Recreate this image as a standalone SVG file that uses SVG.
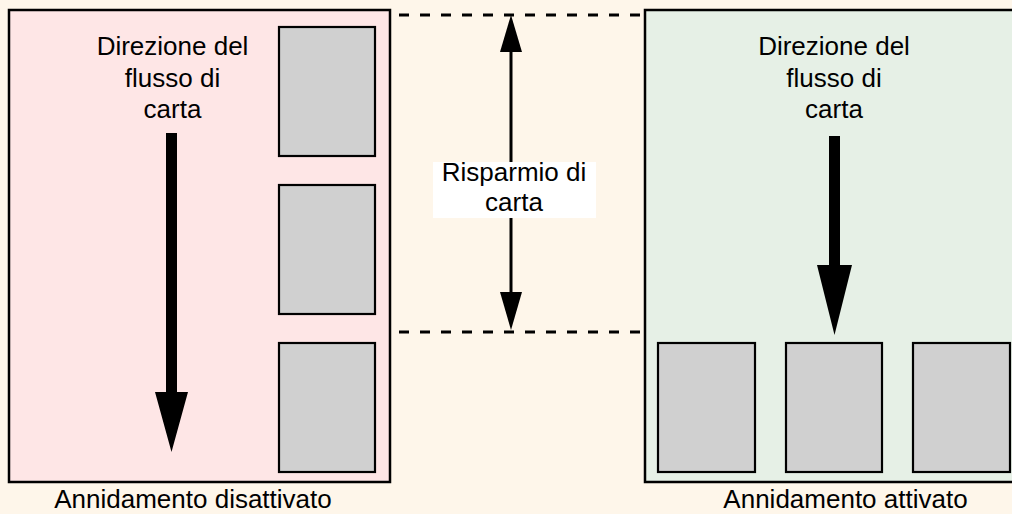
<svg xmlns="http://www.w3.org/2000/svg" width="1012" height="514" viewBox="0 0 1012 514">
  <style>
    .lbl { font-family: "Liberation Sans", Arial, Helvetica, sans-serif; font-size: 26px; fill: #000; text-anchor: middle; }
    .panel { stroke: #000; stroke-width: 2.5; }
    .paper { fill: #d0d0d0; stroke: #000; stroke-width: 2.2; }
    .dash { stroke: #000; stroke-width: 3; stroke-dasharray: 10 11; fill: none; }
    .bar { fill: #000; }
  </style>
  <rect x="0" y="0" width="1012" height="514" fill="#fef6ea"/>

  <g id="panel-off">
    <rect class="panel" x="9" y="10" width="381" height="472" fill="#fee6e6"/>
    <rect class="paper" x="279" y="27" width="96" height="129"/>
    <rect class="paper" x="279" y="185" width="96" height="129"/>
    <rect class="paper" x="279" y="343" width="96" height="129"/>
    <text class="lbl" x="172.5" y="55">Direzione del</text>
    <text class="lbl" x="172.5" y="87">flusso di</text>
    <text class="lbl" x="172.5" y="118">carta</text>
    <polygon class="bar" points="166,133 177,133 177,392 188,392 171.5,452 155,392 166,392"/>
  </g>

  <g id="panel-on">
    <rect class="panel" x="645" y="10" width="380" height="472" fill="#e6f0e6"/>
    <rect class="paper" x="658" y="343" width="97" height="129"/>
    <rect class="paper" x="786" y="343" width="96" height="129"/>
    <rect class="paper" x="913" y="343" width="97" height="129"/>
    <text class="lbl" x="834" y="55">Direzione del</text>
    <text class="lbl" x="834" y="87">flusso di</text>
    <text class="lbl" x="834" y="118">carta</text>
    <polygon class="bar" points="829,136 840,136 840,265 852,265 834.5,335 817,265 829,265"/>
  </g>

  <g id="connectors">
    <line class="dash" x1="399" y1="15" x2="645" y2="15"/>
    <line class="dash" x1="399" y1="332" x2="645" y2="332"/>
    <line x1="511" y1="50" x2="511" y2="294" stroke="#000" stroke-width="3"/>
    <polygon class="bar" points="511,15 522,52 500,52"/>
    <polygon class="bar" points="511,330 522,292 500,292"/>
  </g>

  <g id="saving-label">
    <rect x="433" y="162" width="163" height="56" fill="#ffffff"/>
    <text class="lbl" x="514" y="181">Risparmio di</text>
    <text class="lbl" x="514" y="211">carta</text>
  </g>

  <text class="lbl" x="193" y="508">Annidamento disattivato</text>
  <text class="lbl" x="845.5" y="508">Annidamento attivato</text>
</svg>
